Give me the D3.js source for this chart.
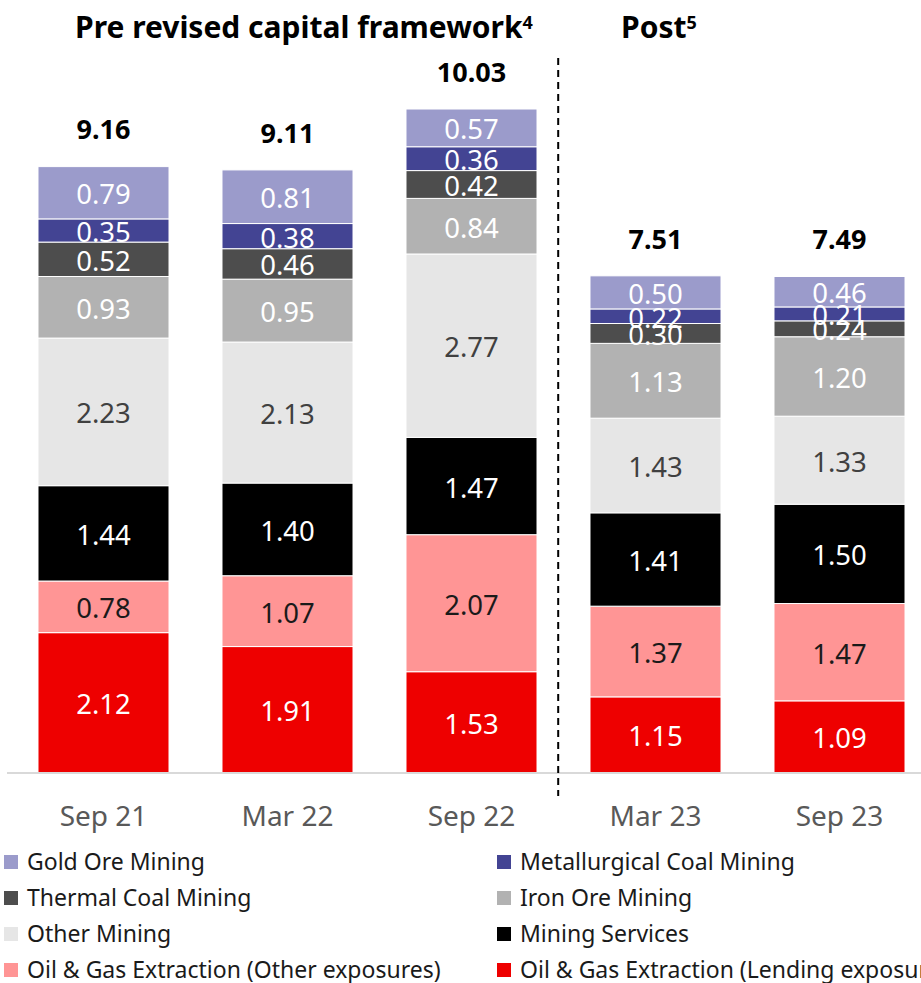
<!DOCTYPE html>
<html><head><meta charset="utf-8">
<script src="https://cdn.jsdelivr.net/npm/d3@7"></script>
<style>body{margin:0;background:#fff;} svg{display:block;font-family:"Noto Sans",sans-serif;}</style>
</head><body>
<svg id="c" width="921" height="983"></svg>
<script>
const categories = ["Sep 21","Mar 22","Sep 22","Mar 23","Sep 23"];
const seriesNames = ["Oil & Gas Extraction (Lending exposures)","Oil & Gas Extraction (Other exposures)","Mining Services","Other Mining","Iron Ore Mining","Thermal Coal Mining","Metallurgical Coal Mining","Gold Ore Mining"];
const oilLending = [2.12,1.91,1.53,1.15,1.09];
const oilOther   = [0.78,1.07,2.07,1.37,1.47];
const miningServices = [1.44,1.40,1.47,1.41,1.50];
const otherMining = [2.23,2.13,2.77,1.43,1.33];
const ironOre = [0.93,0.95,0.84,1.13,1.20];
const thermalCoal = [0.52,0.46,0.42,0.30,0.24];
const metCoal = [0.35,0.38,0.36,0.22,0.21];
const goldOre = [0.79,0.81,0.57,0.50,0.46];
const totals = ["9.16","9.11","10.03","7.51","7.49"];
const seriesValues = [oilLending,oilOther,miningServices,otherMining,ironOre,thermalCoal,metCoal,goldOre];
const colors = ["#ee0000","#ff9595","#000000","#e6e6e6","#b2b2b2","#4d4d4d","#434493","#9b9bcb"];
const labelColors = ["#fff","#1a1a1a","#fff","#404040","#fff","#fff","#fff","#fff"];
const legendOrder = [7,6,5,4,3,2,1,0];

const svg = d3.select("#c");
const x = d3.scaleBand().domain(categories).range([11.5,931.5]).paddingInner(0.288).paddingOuter(0.144);
const y = d3.scaleLinear().domain([0,10]).range([773,111]);

const rows = categories.map((c,i)=>{const o={cat:c}; seriesNames.forEach((s,j)=>o[s]=seriesValues[j][i]); return o;});
const stack = d3.stack().keys(seriesNames)(rows);

const g = svg.append("g");
stack.forEach((layer,j)=>{
  g.selectAll(null).data(layer).enter().append("rect")
    .attr("x",d=>x(d.data.cat)).attr("width",x.bandwidth())
    .attr("y",d=>y(d[1])).attr("height",d=>y(d[0])-y(d[1]))
    .attr("fill",colors[j]).attr("stroke","#fff").attr("stroke-width",1);
});
stack.forEach((layer,j)=>{
  g.selectAll(null).data(layer).enter().append("text")
    .attr("x",d=>x(d.data.cat)+x.bandwidth()/2)
    .attr("y",d=>(y(d[0])+y(d[1]))/2)
    .attr("dy","0.42em").attr("text-anchor","middle")
    .attr("font-size",27.5).attr("fill",labelColors[j])
    .text(d=>d3.format(".2f")(d[1]-d[0]));
});
// totals
const tops = categories.map((c,i)=>d3.sum(seriesValues,s=>s[i]));
g.selectAll(null).data(categories).enter().append("text")
  .attr("x",c=>x(c)+x.bandwidth()/2)
  .attr("y",(c,i)=>y(tops[i])-37).attr("dy","0.36em")
  .attr("text-anchor","middle").attr("font-size",27).attr("font-weight","bold").attr("fill","#000")
  .text((c,i)=>totals[i]);

// axis
svg.append("line").attr("x1",7).attr("x2",921).attr("y1",y(0)).attr("y2",y(0)).attr("stroke","#d9d9d9").attr("stroke-width",2);
const ax = svg.append("g").attr("transform",`translate(0,${y(0)})`).call(d3.axisBottom(x).tickSize(0).tickPadding(33));
ax.select(".domain").remove();
ax.selectAll("text").attr("font-size",28).attr("fill","#595959").attr("font-family","Noto Sans");

// divider
const dx = x("Sep 22")+x.bandwidth()+ (x.step()-x.bandwidth())*0.4;
svg.append("line").attr("x1",dx).attr("x2",dx).attr("y1",58).attr("y2",796)
  .attr("stroke","#000").attr("stroke-width",2).attr("stroke-dasharray","7,5");

// titles
const t1 = svg.append("text").attr("x",75).attr("y",38).attr("font-size",30).attr("font-weight","bold").attr("fill","#000");
t1.append("tspan").text("Pre revised capital framework");
t1.append("tspan").attr("font-size",18).attr("dy",-9).text("4");
const t2 = svg.append("text").attr("x",621).attr("y",38).attr("font-size",30).attr("font-weight","bold").attr("fill","#000");
t2.append("tspan").text("Post");
t2.append("tspan").attr("font-size",18).attr("dy",-9).text("5");

// legend
const lg = svg.append("g");
legendOrder.forEach((j,k)=>{
  const col = k%2, row = Math.floor(k/2);
  const lx = col===0?4:497, ly = 862+row*36;
  lg.append("rect").attr("x",lx).attr("y",ly-7).attr("width",14).attr("height",14).attr("fill",colors[j]);
  lg.append("text").attr("x",lx+23).attr("y",ly).attr("dy","0.36em").attr("font-size",23).attr("fill","#1a1a1a").text(seriesNames[j]);
});
</script>
</body></html>
